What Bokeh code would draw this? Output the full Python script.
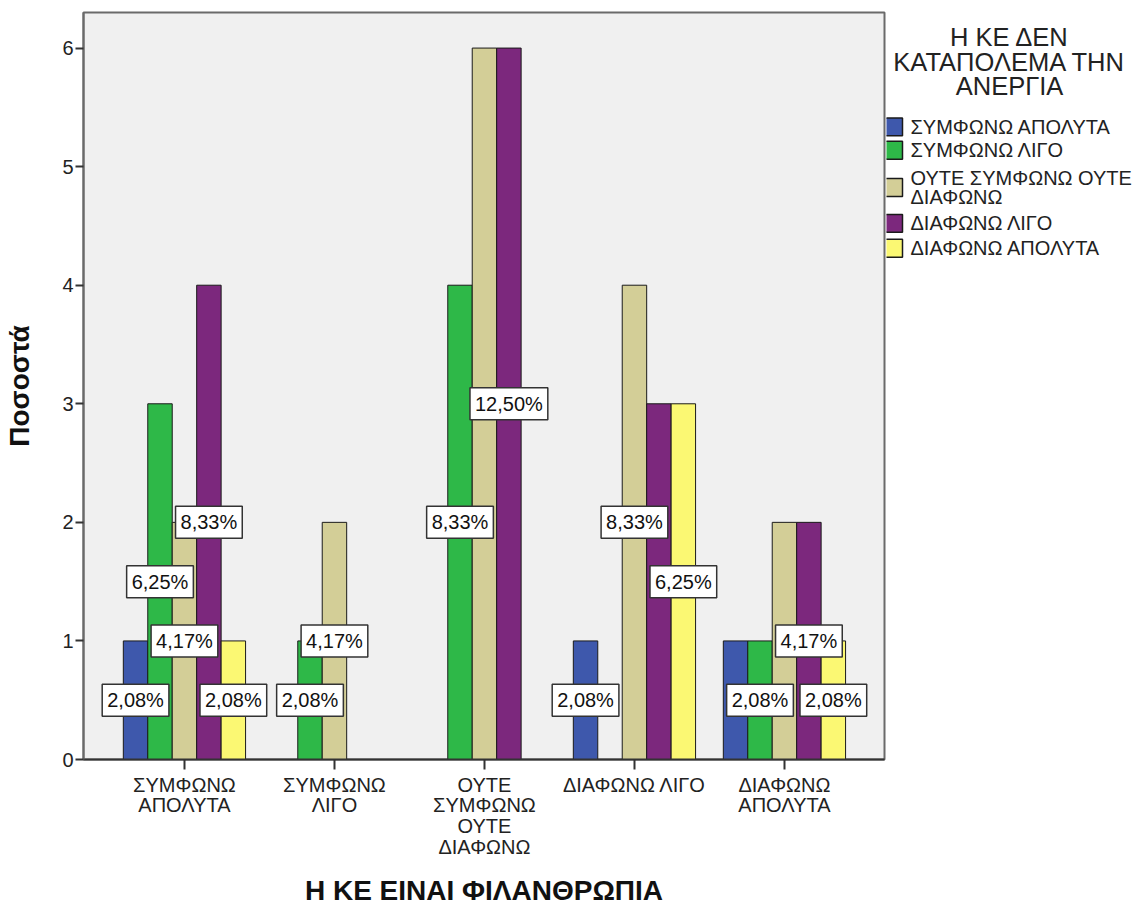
from bokeh.plotting import figure
from bokeh.models import Range1d, FixedTicker
from bokeh.layouts import row
from bokeh.core.properties import value
from bokeh.embed import file_html
from bokeh.resources import INLINE

# ---------------- data ----------------
categories = ["ΣΥΜΦΩΝΩ\nΑΠΟΛΥΤΑ", "ΣΥΜΦΩΝΩ\nΛΙΓΟ", "ΟΥΤΕ\nΣΥΜΦΩΝΩ\nΟΥΤΕ\nΔΙΑΦΩΝΩ",
              "ΔΙΑΦΩΝΩ ΛΙΓΟ", "ΔΙΑΦΩΝΩ\nΑΠΟΛΥΤΑ"]
series_names = ["ΣΥΜΦΩΝΩ ΑΠΟΛΥΤΑ", "ΣΥΜΦΩΝΩ ΛΙΓΟ", "ΟΥΤΕ ΣΥΜΦΩΝΩ ΟΥΤΕ\nΔΙΑΦΩΝΩ",
                "ΔΙΑΦΩΝΩ ΛΙΓΟ", "ΔΙΑΦΩΝΩ ΑΠΟΛΥΤΑ"]
counts_sympono_apolyta = [1, 0, 0, 1, 1]
counts_sympono_ligo = [3, 1, 4, 0, 1]
counts_oute = [2, 2, 6, 4, 2]
counts_diafono_ligo = [4, 0, 6, 3, 2]
counts_diafono_apolyta = [1, 0, 0, 3, 1]
# which percentage labels are visible (others are hidden behind neighbours)
label_shown_sympono_apolyta = [True, False, False, True, False]
label_shown_sympono_ligo = [True, True, True, False, True]
label_shown_oute = [True, True, False, True, False]
label_shown_diafono_ligo = [True, False, True, False, True]
label_shown_diafono_apolyta = [True, False, False, True, True]
total_n = 48
y_ticks = [0, 1, 2, 3, 4, 5, 6]
legend_title_lines = ["Η ΚΕ ΔΕΝ", "ΚΑΤΑΠΟΛΕΜΑ ΤΗΝ", "ΑΝΕΡΓΙΑ"]
x_title = "Η ΚΕ ΕΙΝΑΙ ΦΙΛΑΝΘΡΩΠΙΑ"
y_title = "Ποσοστά"

series = [counts_sympono_apolyta, counts_sympono_ligo, counts_oute,
          counts_diafono_ligo, counts_diafono_apolyta]
shown = [label_shown_sympono_apolyta, label_shown_sympono_ligo, label_shown_oute,
         label_shown_diafono_ligo, label_shown_diafono_apolyta]
colors = ["#3E58AC", "#2EB848", "#D3CE97", "#7C287D", "#FBF873"]

FONT = "Liberation Sans"
TXT = "#222222"
BAR_W = 0.163
H = 905
TOP = 12
FH = 747

p = figure(frame_width=801, frame_height=FH, output_backend="svg", toolbar_location=None,
           x_range=Range1d(-0.673, 4.667), y_range=Range1d(0, 6.30),
           min_border_left=83, min_border_right=2, min_border_top=TOP,
           min_border_bottom=H - TOP - FH,
           background_fill_color="#F0F0F0", border_fill_color="white")
p.outline_line_color = "#6a6a6a"
p.outline_line_width = 2
p.xgrid.visible = False
p.ygrid.visible = False

for j, vals in enumerate(series):
    off = (j - 2) * BAR_W
    xs = [i + off for i, v in enumerate(vals) if v > 0]
    tops = [v for v in vals if v > 0]
    p.vbar(x=xs, top=tops, width=BAR_W, fill_color=colors[j], line_color="#1a1a1a",
           line_width=1)

# percentage labels
for j, vals in enumerate(series):
    off = (j - 2) * BAR_W
    lx, ly, lt = [], [], []
    for i, v in enumerate(vals):
        if v > 0 and shown[j][i]:
            lx.append(i + off)
            ly.append(v / 2)
            lt.append(f"{v / total_n * 100:.2f}".replace(".", ",") + "%")
    if lx:
        p.text(x=lx, y=ly, text=lt, text_align="center", text_baseline="middle",
               text_font=value(FONT), text_font_size="20px", text_color="#111111",
               background_fill_color="white", border_line_color="#333333",
               border_line_width=1.5, padding=5)

# axes
p.yaxis.ticker = FixedTicker(ticks=y_ticks)
p.yaxis.minor_tick_line_color = None
p.yaxis.major_tick_in = 0
p.yaxis.major_tick_out = 8
p.yaxis.axis_line_color = "#6a6a6a"
p.yaxis.axis_line_width = 2
p.yaxis.major_tick_line_color = "#333333"
p.yaxis.major_tick_line_width = 2
p.yaxis.major_label_text_font = FONT
p.yaxis.major_label_text_font_size = "20px"
p.yaxis.major_label_text_color = TXT
p.yaxis.major_label_standoff = 2
p.yaxis.axis_label = y_title
p.yaxis.axis_label_text_font = FONT
p.yaxis.axis_label_text_font_size = "28px"
p.yaxis.axis_label_text_font_style = "bold"
p.yaxis.axis_label_text_color = "#111111"
p.yaxis.axis_label_standoff = 24

p.xaxis.ticker = FixedTicker(ticks=[0, 1, 2, 3, 4])
p.xaxis.major_label_overrides = {i: c for i, c in enumerate(categories)}
p.xaxis.minor_tick_line_color = None
p.xaxis.major_tick_in = 0
p.xaxis.major_tick_out = 10
p.xaxis.axis_line_color = "#333333"
p.xaxis.axis_line_width = 2
p.xaxis.major_tick_line_color = "#333333"
p.xaxis.major_tick_line_width = 2
p.xaxis.major_label_text_font = FONT
p.xaxis.major_label_text_font_size = "20px"
p.xaxis.major_label_text_color = TXT
p.xaxis.major_label_text_line_height = 0.95
p.xaxis.major_label_standoff = 4
p.xaxis.axis_label = x_title
p.xaxis.axis_label_text_font = FONT
p.xaxis.axis_label_text_font_size = "28px"
p.xaxis.axis_label_text_font_style = "bold"
p.xaxis.axis_label_text_color = "#111111"
p.xaxis.axis_label_standoff = 14

# ---------------- legend panel (separate figure to the right) ----------------
# its frame is aligned by the row layout with the main frame (page y from TOP to TOP+FH),
# so data coordinates here equal page pixels
X0 = 886
W2 = 250
lg = figure(width=W2, height=H, output_backend="svg", toolbar_location=None,
            x_range=Range1d(X0, X0 + W2), y_range=Range1d(TOP + FH, TOP),
            min_border_left=0, min_border_right=0, min_border_top=TOP,
            min_border_bottom=H - TOP - FH,
            outline_line_color=None, background_fill_color="white",
            border_fill_color="white")
lg.axis.visible = False
lg.grid.visible = False

title_y = [37, 62, 86]
lg.text(x=[1009] * 3, y=title_y, text=legend_title_lines, text_align="center",
        text_baseline="middle", text_font=value(FONT), text_font_size="25.5px",
        text_color=TXT)

sw_y = [127, 150.5, 188, 224, 249]
lg.rect(x=[893] * 5, y=sw_y, width=18, height=18, fill_color=colors,
        line_color="#1a1a1a", line_width=1.5)
tx, ty, tt = [], [], []
for name, yc in zip(series_names, sw_y):
    lines = name.split("\n")
    n = len(lines)
    for k, ln in enumerate(lines):
        tx.append(910)
        ty.append(yc + (k - (n - 1) / 2) * 19)
        tt.append(ln)
lg.text(x=tx, y=ty, text=tt, text_align="left", text_baseline="middle",
        text_font=value(FONT), text_font_size="20px", text_color=TXT)

layout = row(p, lg, spacing=0)
open("out.html", "w").write(file_html(layout, INLINE))
